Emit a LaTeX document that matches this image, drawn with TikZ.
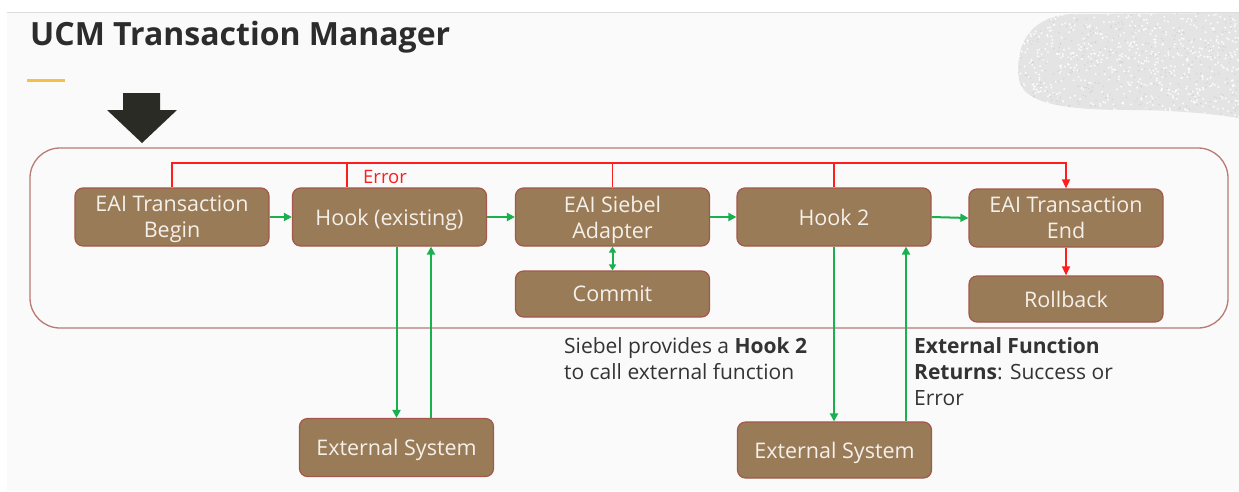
\documentclass[tikz,border=0pt]{standalone}
\usepackage{fontspec}
\setmainfont{Open Sans}
\usetikzlibrary{arrows.meta,calc}
\definecolor{bgc}{HTML}{FAFAFA}
\definecolor{topline}{HTML}{DCDCDC}
\definecolor{boxfill}{HTML}{9A7B58}
\definecolor{boxline}{HTML}{A4574A}
\definecolor{boxtext}{HTML}{F4F0EA}
\definecolor{okgreen}{HTML}{19B04E}
\definecolor{errred}{HTML}{FF1E1E}
\definecolor{framec}{HTML}{B87A72}
\definecolor{txt}{HTML}{333333}
\definecolor{titlec}{HTML}{2C2C2C}
\definecolor{yellowc}{HTML}{F5C04A}
\definecolor{arrowc}{HTML}{2B2B26}
\definecolor{blobc}{HTML}{E4E4E4}
\begin{document}
\begin{tikzpicture}[x=1pt,y=-1pt,
  box/.style={draw=boxline, line width=1.2pt, fill=boxfill, rounded corners=8pt,
    minimum width=194pt, minimum height=58pt, inner sep=0pt, text=boxtext,
    font=\fontsize{21.5}{26}\selectfont, align=center, text depth=0pt},
  frame/.style={draw=framec, line width=1.3pt, rounded corners=30pt, inner sep=0pt},
  ok/.style={draw=okgreen, line width=2pt, -{Triangle[length=8pt,width=8pt]}},
  err/.style={draw=errred, line width=1.6pt},
  errtip/.style={-{Triangle[length=9pt,width=8pt]}},
  note/.style={font=\fontsize{21}{26}\selectfont, text=txt, align=left, inner sep=0pt},
]
\useasboundingbox (0,0) rectangle (1239,491);
% background
\fill[white] (0,0) rectangle (1239,491);
\fill[bgc] (7,13) rectangle (1239,491);
\draw[topline, line width=1.5pt] (7,12.5) -- (1239,12.5);
% textured blob
\begin{scope}
  \path[clip] (1239,13) -- (1070,14) .. controls (1025,18) and (1015,50) .. (1019,80)
    .. controls (1024,105) and (1070,110) .. (1130,110)
    .. controls (1180,110) and (1220,115) .. (1239,118) -- cycle;
  \fill[blobc] (1000,0) rectangle (1239,130);
  \pgfmathsetseed{42}
  \foreach \i in {1,...,700}{
    \pgfmathsetmacro\rx{1015+224*rnd}
    \pgfmathsetmacro\ry{13+107*rnd}
    \fill[white, opacity=0.85] (\rx,\ry) circle (1.1pt);
  }
  \foreach \i in {1,...,400}{
    \pgfmathsetmacro\rx{1015+224*rnd}
    \pgfmathsetmacro\ry{13+107*rnd}
    \fill[black!22, opacity=0.6] (\rx,\ry) circle (0.8pt);
  }
\end{scope}
% title
\node[anchor=base west, inner sep=0pt, text=titlec, font=\fontsize{32}{38}\selectfont\bfseries] (title) at (30,45) {UCM Transaction Manager};
\draw[yellowc, line width=3pt] (27,80.5) -- (65,80.5);
% big black arrow
\fill[arrowc] (123,93) -- (160,93) -- (160,110) -- (177,110) -- (142,143) -- (107,110) -- (123,110) -- cycle;
% frame
\node[frame, minimum width=1198pt, minimum height=180pt] (frame) at (629,238) {};
% boxes
\node[box] (b1) at (172,217) {EAI Transaction\\Begin};
\node[box] (b2) at (389.5,217) {Hook (existing)};
\node[box] (b3) at (612.5,217) {EAI Siebel\\Adapter};
\node[box] (b4) at (834,217) {Hook 2};
\node[box] (b5) at (1066,218) {EAI Transaction\\End};
\node[box, minimum height=46pt] (cm) at (612.5,294) {Commit};
\node[box, minimum height=46pt] (rb) at (1066,299) {Rollback};
\node[box] (e1) at (396.5,447.5) {External System};
\node[box, minimum height=56pt] (e2) at (834.5,450) {External System};
% green connectors
\draw[ok] (b1) -- (b2);
\draw[ok] (b2) -- (b3);
\draw[ok] (b3) -- (b4);
\draw[ok] (b4.east) -- (b5.west);
\draw[ok, {Triangle[length=6pt,width=7pt]}-{Triangle[length=6pt,width=7pt]}] (b3.south) -- (cm.north);
\coordinate (e1r) at ([xshift=34.5pt]e1.north);
\draw[ok] (e1.north |- b2.south) -- (e1.north);
\draw[ok] (e1r) -- (e1r |- b2.south);
\coordinate (e2r) at ([xshift=71.5pt]e2.north);
\draw[ok] (b4.south) -- (b4.south |- e2.north);
\draw[ok] (e2r) -- (e2r |- b4.south);
% red error connectors
\coordinate (rl) at (0,163);
\draw[err, errtip] (b1.north) -- (b1.north |- rl) -- (b5.north |- rl) -- (b5.north);
\coordinate (h1) at ([xshift=-42.5pt]b2.north);
\draw[err] (h1) -- (h1 |- rl);
\draw[err] (b3.north) -- (b3.north |- rl);
\draw[err] (b4.north) -- (b4.north |- rl);
\draw[err, errtip] (b5.south) -- (rb.north);
\node[anchor=base west, inner sep=0pt, text=errred, font=\fontsize{18.5}{20}\selectfont] (errlbl) at (363,183) {Error};
% notes
\node[note, anchor=north west] (n1) at (564,337) {Siebel provides a \textbf{Hook 2}\\to call external function};
\node[note, anchor=north west] (n2) at (914,337) {\textbf{External Function}\\\textbf{Returns}: Success or\\Error};
\end{tikzpicture}
\end{document}
